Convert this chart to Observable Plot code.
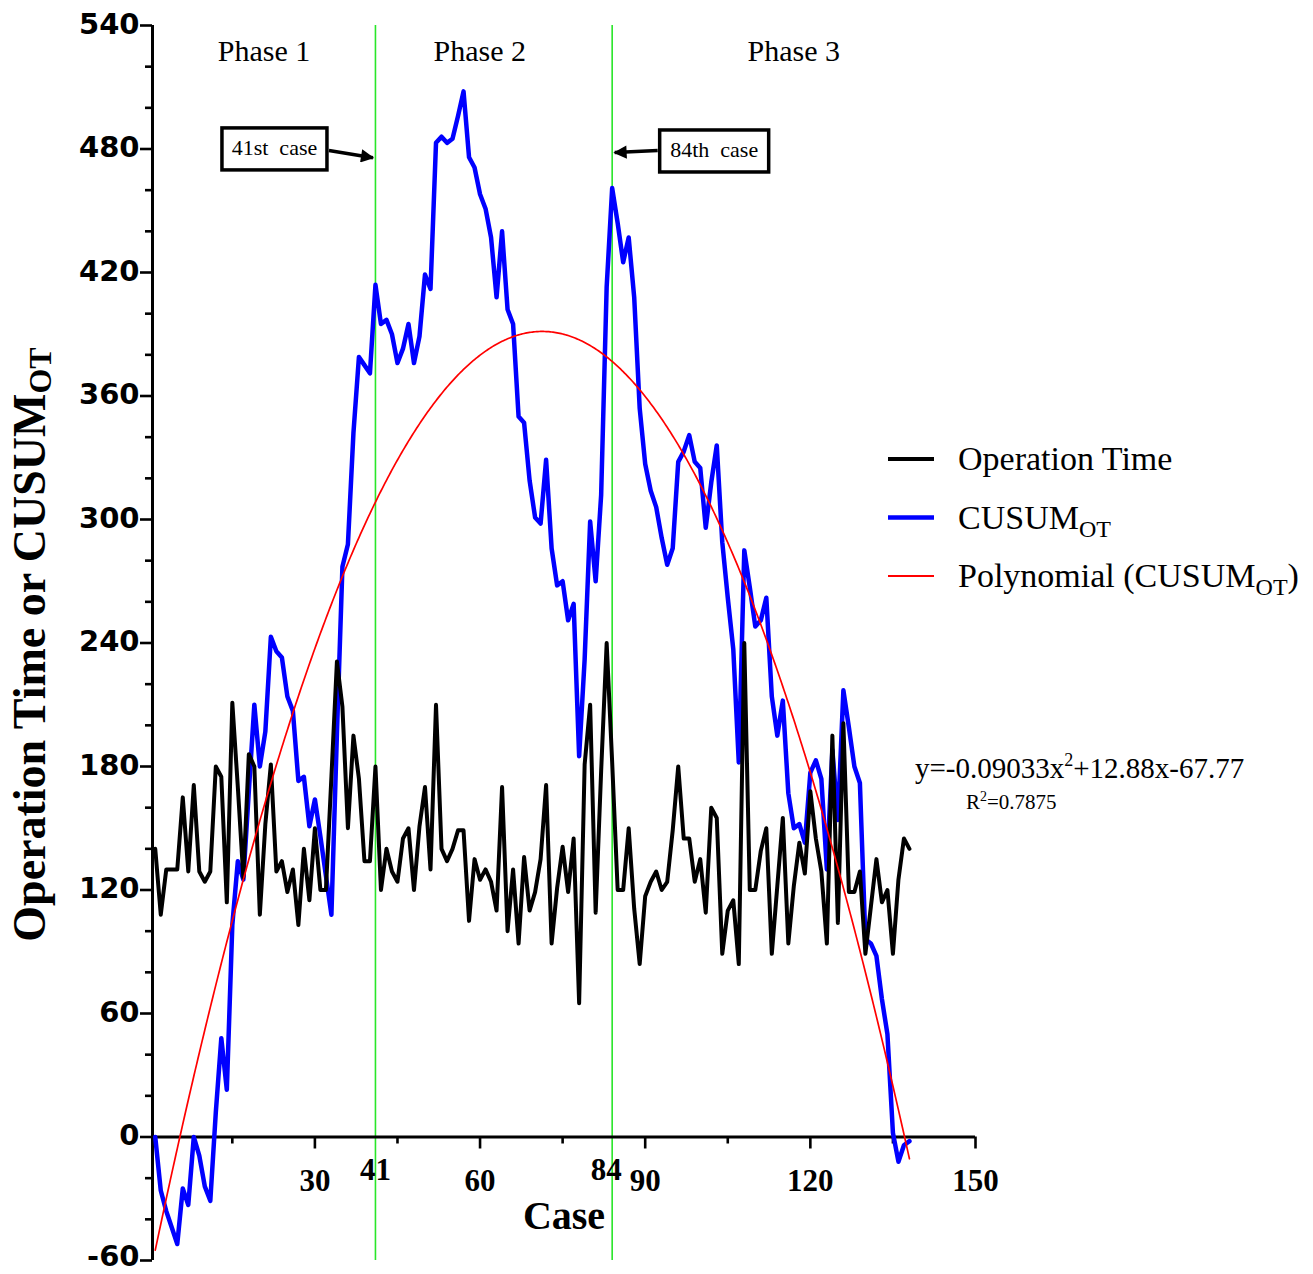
<!DOCTYPE html>
<html><head><meta charset="utf-8">
<script src="https://cdn.jsdelivr.net/npm/d3@7"></script>
<script src="https://cdn.jsdelivr.net/npm/@observablehq/plot@0.6"></script>
<style>
body{margin:0;background:#fff}
#chart{position:relative;width:1313px;height:1274px}
</style>
</head><body><div id="chart"></div>
<script>
// ---- data ----
const opTime = [140,108,130,130,130,165,129,171,129,124,129,180,175,114,211,170,126,186,180,108,
152,181,129,134,119,130,103,140,115,150,120,120,175,231,209,150,195,174,134,134,
180,120,140,129,124,145,150,120,151,170,130,210,140,134,140,149,149,105,135,125,
130,124,110,170,100,130,94,136,110,119,135,171,94,121,141,119,145,65,181,210,
109,178,240,182,120,120,150,111,84,117,124,129,120,124,149,180,145,145,124,135,
109,160,155,89,110,115,84,240,120,120,139,150,89,122,155,94,122,143,128,168,
145,129,94,195,104,201,119,119,129,89,112,135,114,120,89,125,145,140];
const cusum = [0,-26,-36,-44,-52,-25,-33,0,-9,-24,-31,12,48,23,103,134,125,168,210,180,
197,243,236,233,214,207,173,175,151,164,146,127,108,196,277,288,342,379,375,371,
414,395,397,390,376,383,395,376,389,419,412,483,486,483,485,496,508,476,471,458,
451,437,408,440,402,395,350,347,319,301,298,329,286,268,270,251,259,185,232,299,
270,312,413,461,444,425,437,408,354,327,314,306,291,278,286,328,333,341,328,325,
296,318,336,289,262,237,182,285,267,248,251,262,214,195,212,167,150,152,143,177,
183,174,130,188,154,217,199,180,172,96,94,88,67,50,2,-12,-4,-2];
const polyCoef = [-0.09033, 12.88, -67.77];   // y = a x^2 + b x + c (trend equation printed on the chart)
const phaseBounds = [41, 84];
const phaseNames = ["Phase 1", "Phase 2", "Phase 3"];
const xTickLabels = [30, 60, 90, 120, 150];
const xMinorTicks = [15, 45, 75, 105, 135];
const yTickLabels = [-60, 0, 60, 120, 180, 240, 300, 360, 420, 480, 540];
const yMinorTicks = [-40, -20, 20, 40, 80, 100, 140, 160, 200, 220, 260, 280, 320, 340, 380, 400, 440, 460, 500, 520];
const annotations = ["41st  case", "84th  case"];
const seriesNames = ["Operation Time", "CUSUM", "Polynomial (CUSUM"];

// ---- derived tables ----
const rows = opTime.map((v, i) => ({c: i + 1, ot: v, cs: cusum[i]}));
const nCases = rows.length;
const poly = d3.range(1, nCases + 0.001, 0.25).map(x => ({x, y: polyCoef[0]*x*x + polyCoef[1]*x + polyCoef[2]}));
const xDom = [0.5, 150];
const phaseMid = [(xDom[0] + phaseBounds[0]) / 2, (phaseBounds[0] + phaseBounds[1]) / 2, (phaseBounds[1] + xDom[1]) / 2];
const phaseRows = phaseNames.map((n, i) => ({n, x: phaseMid[i]}));

const serif = "Liberation Serif, Times New Roman, serif";
const green = "#29e629";
const phaseFont = {fontFamily: serif, fontSize: 30, fill: "black"};
const yTickFont = {fontFamily: "DejaVu Sans", fontWeight: "bold", fontSize: 29, fill: "black", textAnchor: "end", dx: -13};

const plot = Plot.plot({
  width: 1313, height: 1274,
  marginLeft: 152, marginRight: 338, marginTop: 25, marginBottom: 14,
  x: {domain: xDom, axis: null},
  y: {domain: [-60, 540], axis: null},
  style: {background: "white"},
  marks: [
    Plot.ruleX(phaseBounds, {stroke: green, strokeWidth: 1.6}),
    // axes
    Plot.ruleX([xDom[0]], {stroke: "black", strokeWidth: 3}),
    Plot.ruleY([0], {x1: xDom[0], x2: xDom[1], stroke: "black", strokeWidth: 3}),
    Plot.ruleY(yTickLabels, {x1: xDom[0], x2: xDom[0], insetLeft: -12, stroke: "black", strokeWidth: 2.6}),
    Plot.ruleY(yMinorTicks, {x1: xDom[0], x2: xDom[0], insetLeft: -7, stroke: "black", strokeWidth: 2.6}),
    Plot.ruleX(xTickLabels, {y1: 0, y2: 0, insetBottom: -12, stroke: "black", strokeWidth: 2.6}),
    Plot.ruleX(xMinorTicks, {y1: 0, y2: 0, insetBottom: -7, stroke: "black", strokeWidth: 2.6}),
    Plot.text(yTickLabels.slice(1), {x: xDom[0], y: d => d, text: d => String(d), dy: -1, ...yTickFont}),
    Plot.text(yTickLabels.slice(0, 1), {x: xDom[0], y: d => d, text: d => String(d), dy: -4, ...yTickFont}),
    Plot.text(xTickLabels, {x: d => d, y: 0, text: d => String(d), dy: 44,
      fontFamily: serif, fontWeight: "bold", fontSize: 31, fill: "black"}),
    Plot.text([phaseBounds[0]], {x: d => d, y: 0, text: d => String(d), dy: 33,
      fontFamily: serif, fontWeight: "bold", fontSize: 31, fill: "black"}),
    Plot.text([phaseBounds[1]], {x: d => d, y: 0, text: d => String(d), dy: 33, dx: -6,
      fontFamily: serif, fontWeight: "bold", fontSize: 31, fill: "black"}),
    Plot.text(["Case"], {frameAnchor: "bottom", dy: -32, fontFamily: serif, fontWeight: "bold", fontSize: 40, fill: "black"}),
    Plot.text([phaseRows[0], phaseRows[2]], {x: "x", y: 540, text: "n", dy: 26, ...phaseFont}),
    Plot.text([phaseRows[1]], {x: "x", y: 540, text: "n", dy: 26, dx: -14, ...phaseFont}),
    // data
    Plot.line(rows, {x: "c", y: "cs", stroke: "#0000ff", strokeWidth: 4.5}),
    Plot.line(rows, {x: "c", y: "ot", stroke: "black", strokeWidth: 4}),
    Plot.line(poly, {x: "x", y: "y", stroke: "red", strokeWidth: 1.7})
  ]
});
document.getElementById("chart").appendChild(plot);

// ---- annotations with d3, positioned through the plot's scales ----
const xsc = plot.scale("x"), ysc = plot.scale("y");
const xs = v => xsc.apply(v), ys = v => ysc.apply(v);
const svg = d3.select(plot);
const extra = svg.append("g").attr("text-anchor", "start").attr("font-family", serif).attr("fill", "black");

// y-axis title
const yl = extra.append("text")
  .attr("transform", `translate(34,${(ys(-60) + ys(540)) / 2 + 2}) rotate(-90)`)
  .attr("text-anchor", "middle").attr("dominant-baseline", "middle")
  .attr("font-weight", "bold").attr("font-size", 46);
yl.append("tspan").text("Operation Time or CUSUM");
yl.append("tspan").text("OT").attr("font-size", 32).attr("dy", 10);

// annotation boxes + arrows
svg.append("defs").append("marker").attr("id", "ah").attr("viewBox", "0 0 10 10")
  .attr("refX", 9).attr("refY", 5).attr("markerWidth", 5).attr("markerHeight", 3.8)
  .attr("markerUnits", "strokeWidth").attr("orient", "auto")
  .append("path").attr("d", "M0,0 L10,5 L0,10 z").attr("fill", "black");

function box(label, boxX, boxY, w, h, from, to) {
  extra.append("rect").attr("x", boxX).attr("y", boxY).attr("width", w).attr("height", h)
    .attr("fill", "white").attr("stroke", "black").attr("stroke-width", 3.5);
  extra.append("text").attr("x", boxX + w / 2).attr("y", boxY + h / 2 + 1).attr("text-anchor", "middle")
    .attr("dominant-baseline", "middle").attr("font-size", 22)
    .style("white-space", "pre").text(label);
  extra.append("line").attr("x1", from[0]).attr("y1", from[1]).attr("x2", to[0]).attr("y2", to[1])
    .attr("stroke", "black").attr("stroke-width", 3.5).attr("marker-end", "url(#ah)");
}
const g1 = xs(phaseBounds[0]), g2 = xs(phaseBounds[1]);
box(annotations[0], g1 - 153, ys(490), 105, 42, [g1 - 46, ys(479)], [g1 - 2, ys(475.5)]);
box(annotations[1], g2 + 48, ys(489), 109, 42, [g2 + 46, ys(479)], [g2 + 3, ys(478)]);

// legend
const legendItems = [
  {name: seriesNames[0], color: "black", w: 4, sub: false},
  {name: seriesNames[1], color: "#0000ff", w: 4.5, sub: true, tail: ""},
  {name: seriesNames[2], color: "red", w: 1.8, sub: true, tail: ")"}
];
legendItems.forEach((d, i) => {
  const y = 459 + i * 58.5;
  extra.append("line").attr("x1", 888).attr("x2", 934).attr("y1", y).attr("y2", y)
    .attr("stroke", d.color).attr("stroke-width", d.w);
  const t = extra.append("text").attr("x", 958).attr("y", y + 11).attr("font-size", 34);
  t.append("tspan").text(d.name);
  if (d.sub) {
    t.append("tspan").text("OT").attr("font-size", 24).attr("dy", 8);
    if (d.tail) t.append("tspan").text(d.tail).attr("dy", -8);
  }
});

// equation
const eq = extra.append("text").attr("x", 915).attr("y", 778).attr("font-size", 29);
eq.append("tspan").text(`y=${polyCoef[0]}x`);
eq.append("tspan").text("2").attr("font-size", 18).attr("dy", -12);
eq.append("tspan").text(`+${polyCoef[1]}x${polyCoef[2]}`).attr("dy", 12);
const r2 = extra.append("text").attr("x", 966).attr("y", 809).attr("font-size", 21);
r2.append("tspan").text("R");
r2.append("tspan").text("2").attr("font-size", 14).attr("dy", -8);
r2.append("tspan").text("=0.7875").attr("dy", 8);
</script>
</body></html>
